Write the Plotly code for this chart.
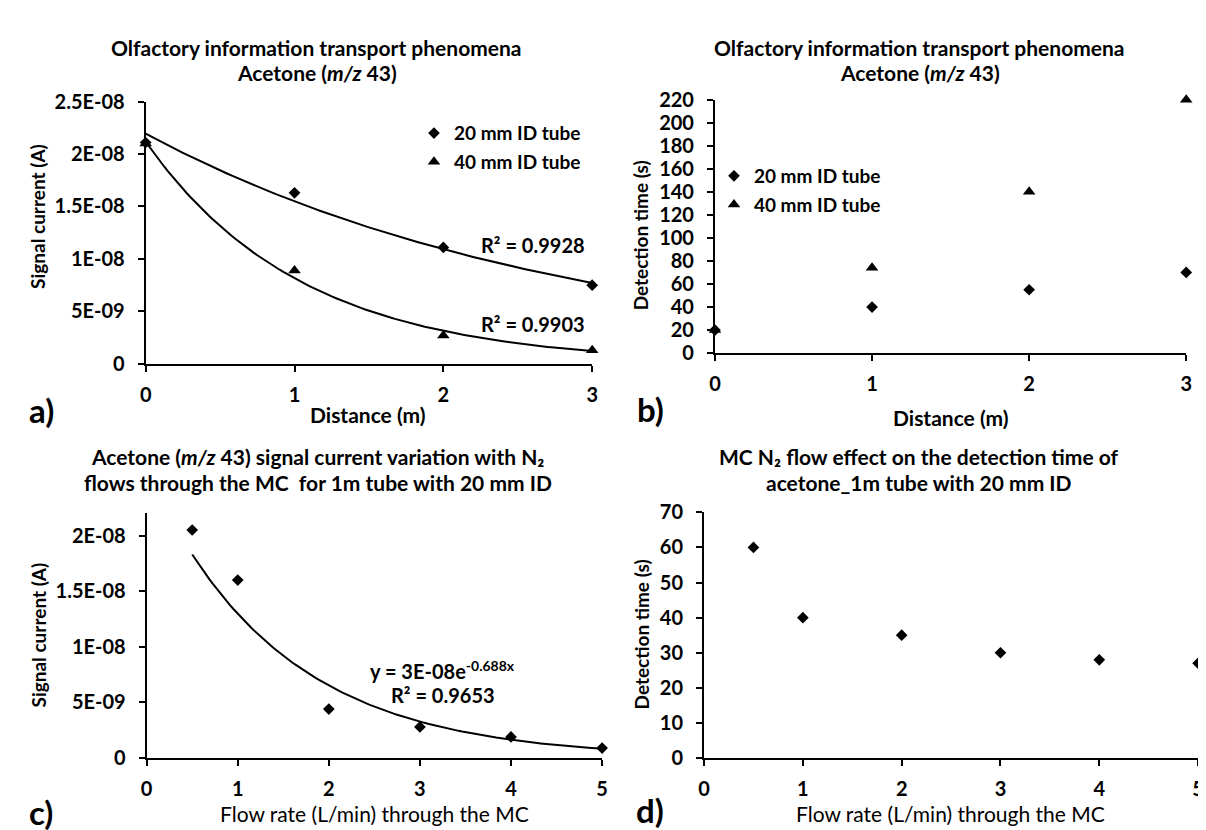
import numpy as np
import plotly.graph_objects as go

# ---------------- data ----------------
distance_m = [0, 1, 2, 3]
signal_20mm = [2.11e-8, 1.63e-8, 1.11e-8, 7.5e-9]
signal_40mm = [2.10e-8, 8.9e-9, 2.7e-9, 1.3e-9]
dettime_20mm = [20, 40, 55, 70]
dettime_40mm = [20, 74, 140, 220]

flow_lpm = [0.5, 1, 2, 3, 4, 5]
signal_flow = [2.05e-8, 1.60e-8, 4.4e-9, 2.8e-9, 1.9e-9, 9e-10]
dettime_flow = [60, 40, 35, 30, 28, 27]

series_names = ["20 mm ID tube", "40 mm ID tube"]
r2_labels = ["R² = 0.9928", "R² = 0.9903", "R² = 0.9653"]
eq_label = "y = 3E-08e<sup>-0.688x</sup>"

sig_a_tickvals = [0, 5e-9, 1e-8, 1.5e-8, 2e-8, 2.5e-8]
sig_a_ticktext = ["0", "5E-09", "1E-08", "1.5E-08", "2E-08", "2.5E-08"]
sig_c_tickvals = [0, 5e-9, 1e-8, 1.5e-8, 2e-8]
sig_c_ticktext = ["0", "5E-09", "1E-08", "1.5E-08", "2E-08"]

FONT = "Lato"
BLACK = "black"
W, H = 1206, 830


def expfit(x, y):
    b, ln_a = np.polyfit(np.asarray(x, float), np.log(np.asarray(y, float)), 1)
    return np.exp(ln_a), b


def px_x(p):
    return p / W


def px_y(p):
    return 1 - p / H


fig = go.Figure()

DIA = dict(symbol="diamond", size=9, color=BLACK)
TRI = dict(symbol="triangle-up", size=11, color=BLACK)

# ---------------- panel a ----------------
fig.add_trace(go.Scatter(x=distance_m, y=signal_20mm, mode="markers", name=series_names[0],
                         marker=DIA, xaxis="x", yaxis="y", legend="legend",
                         legendgroup="a1", cliponaxis=False))
fig.add_trace(go.Scatter(x=distance_m, y=signal_40mm, mode="markers", name=series_names[1],
                         marker=TRI, xaxis="x", yaxis="y", legend="legend",
                         legendgroup="a2", cliponaxis=False))
for ys in (signal_20mm, signal_40mm):
    a, b = expfit(distance_m, ys)
    xx = np.linspace(min(distance_m), max(distance_m), 121)
    fig.add_trace(go.Scatter(x=xx, y=a * np.exp(b * xx), mode="lines", showlegend=False,
                             line=dict(color=BLACK, width=2), xaxis="x", yaxis="y",
                             hoverinfo="skip"))

# ---------------- panel b ----------------
fig.add_trace(go.Scatter(x=distance_m, y=dettime_20mm, mode="markers", name=series_names[0],
                         marker=DIA, xaxis="x2", yaxis="y2", legend="legend2",
                         legendgroup="b1", cliponaxis=False))
fig.add_trace(go.Scatter(x=distance_m, y=dettime_40mm, mode="markers", name=series_names[1],
                         marker=TRI, xaxis="x2", yaxis="y2", legend="legend2",
                         legendgroup="b2", cliponaxis=False))

# ---------------- panel c ----------------
fig.add_trace(go.Scatter(x=flow_lpm, y=signal_flow, mode="markers", showlegend=False,
                         marker=DIA, xaxis="x3", yaxis="y3", cliponaxis=False))
a, b = expfit(flow_lpm, signal_flow)
xx = np.linspace(min(flow_lpm), max(flow_lpm), 121)
fig.add_trace(go.Scatter(x=xx, y=a * np.exp(b * xx), mode="lines", showlegend=False,
                         line=dict(color=BLACK, width=2), xaxis="x3", yaxis="y3",
                         hoverinfo="skip"))

# ---------------- panel d ----------------
fig.add_trace(go.Scatter(x=flow_lpm, y=dettime_flow, mode="markers", showlegend=False,
                         marker=DIA, xaxis="x4", yaxis="y4", cliponaxis=False))

tickfont = dict(family=FONT, size=20, color=BLACK, weight="bold")

axis_common = dict(showline=True, linecolor=BLACK, linewidth=2, ticks="outside",
                   ticklen=6, tickwidth=2, tickcolor=BLACK, showgrid=False,
                   zeroline=False, tickfont=tickfont, fixedrange=True,
                   ticklabeloverflow="allow")
xax = dict(axis_common, ticklabelstandoff=6)
yax = dict(axis_common, ticklabelstandoff=9)

legend_font = dict(family=FONT, size=19, color=BLACK, weight="bold")

fig.update_layout(
    width=W, height=H, margin=dict(l=0, r=0, t=0, b=0),
    paper_bgcolor="white", plot_bgcolor="white",
    font=dict(family=FONT, color=BLACK),
    xaxis=dict(domain=[px_x(133), px_x(584)], range=[0, 3], tickvals=distance_m,
               anchor="y", **xax),
    yaxis=dict(domain=[px_y(353), px_y(83)], range=[0, 2.5e-8], tickvals=sig_a_tickvals,
               ticktext=sig_a_ticktext, anchor="x", **yax),
    xaxis2=dict(domain=[px_x(708), px_x(1184)], range=[0, 3], tickvals=distance_m,
                anchor="y2", **xax),
    yaxis2=dict(domain=[px_y(342), px_y(81)], range=[0, 220], dtick=20, anchor="x2", **yax),
    xaxis3=dict(domain=[px_x(134), px_x(594)], range=[0, 5], dtick=1, anchor="y3", **xax),
    yaxis3=dict(domain=[px_y(759), px_y(507)], range=[0, 2.2e-8], tickvals=sig_c_tickvals,
                ticktext=sig_c_ticktext, anchor="x3", **yax),
    xaxis4=dict(domain=[px_x(697), px_x(1196)], range=[0, 5], dtick=1, anchor="y4", **xax),
    yaxis4=dict(domain=[px_y(759), px_y(506)], range=[0, 70], dtick=10, anchor="x4", **yax),
    legend=dict(x=px_x(404), y=px_y(96), xanchor="left", yanchor="top",
                font=legend_font, bgcolor="rgba(0,0,0,0)", itemwidth=30,
                tracegroupgap=1),
    legend2=dict(x=px_x(707), y=px_y(140), xanchor="left", yanchor="top",
                 font=legend_font, bgcolor="rgba(0,0,0,0)", itemwidth=30,
                 tracegroupgap=1),
    showlegend=True,
)

ann = []
title_font = dict(family=FONT, size=21, color=BLACK, weight="bold")
for cx, l1, l2 in [
    (306, "Olfactory information transport phenomena", "Acetone (<i>m/z</i> 43)"),
    (915, "Olfactory information transport phenomena", "Acetone (<i>m/z</i> 43)"),
]:
    ann.append(dict(x=px_x(cx), y=px_y(27), xref="paper", yref="paper", text=l1,
                    showarrow=False, font=title_font, xanchor="center", yanchor="middle"))
    ann.append(dict(x=px_x(cx), y=px_y(53), xref="paper", yref="paper", text=l2,
                    showarrow=False, font=title_font, xanchor="center", yanchor="middle"))
for cx, l1, l2 in [
    (307, "Acetone (<i>m/z</i> 43) signal current variation with N₂",
     "flows through the MC  for 1m tube with 20 mm ID"),
    (914, "MC N₂ flow effect on the detection time of", "acetone_1m tube with 20 mm ID"),
]:
    ann.append(dict(x=px_x(cx), y=px_y(448), xref="paper", yref="paper", text=l1,
                    showarrow=False, font=title_font, xanchor="center", yanchor="middle"))
    ann.append(dict(x=px_x(cx), y=px_y(475), xref="paper", yref="paper", text=l2,
                    showarrow=False, font=title_font, xanchor="center", yanchor="middle"))

# axis titles
axt_b = dict(family=FONT, size=21, color=BLACK, weight="bold")
axt_y = dict(family=FONT, size=19, color=BLACK, weight="bold")
axt_r = dict(family=FONT, size=21, color=BLACK)
for cx, cy, t, f, ang in [
    (358, 405, "Distance (m)", axt_b, 0),
    (946, 408, "Distance (m)", axt_b, 0),
    (364, 816, "Flow rate (L/min) through the MC", axt_r, 0),
    (946, 816, "Flow rate (L/min) through the MC", axt_r, 0),
    (23, 201, "Signal current (A)", axt_y, -90),
    (633, 221, "Detection time (s)", axt_y, -90),
    (25, 632, "Signal current (A)", axt_y, -90),
    (634, 632, "Detection time (s)", axt_y, -90),
]:
    ann.append(dict(x=px_x(cx), y=px_y(cy), xref="paper", yref="paper", text=t,
                    showarrow=False, font=f, textangle=ang,
                    xanchor="center", yanchor="middle"))

# panel letters
letter_font = dict(family=FONT, size=33, color=BLACK, weight="bold")
for lx, ly, t in [(28, 401, "a)"), (643, 400, "b)"), (27, 815, "c)"), (642, 813, "d)")]:
    ann.append(dict(x=px_x(lx), y=px_y(ly), xref="paper", yref="paper", text=t,
                    showarrow=False, font=letter_font, xanchor="center", yanchor="middle"))

# fit labels
r2_font = dict(family=FONT, size=20, color=BLACK, weight="bold")
ann.append(dict(x=2.967, y=1.13e-8, xref="x", yref="y", text=r2_labels[0], showarrow=False,
                font=r2_font, xanchor="right", yanchor="middle"))
ann.append(dict(x=2.967, y=3.8e-9, xref="x", yref="y", text=r2_labels[1], showarrow=False,
                font=r2_font, xanchor="right", yanchor="middle"))
ann.append(dict(x=3.25, y=7.9e-9, xref="x3", yref="y3", text=eq_label, showarrow=False,
                font=r2_font, xanchor="center", yanchor="middle"))
ann.append(dict(x=3.25, y=5.7e-9, xref="x3", yref="y3", text=r2_labels[2], showarrow=False,
                font=r2_font, xanchor="center", yanchor="middle"))

fig.update_layout(annotations=ann)

fig.write_html("out.html")
